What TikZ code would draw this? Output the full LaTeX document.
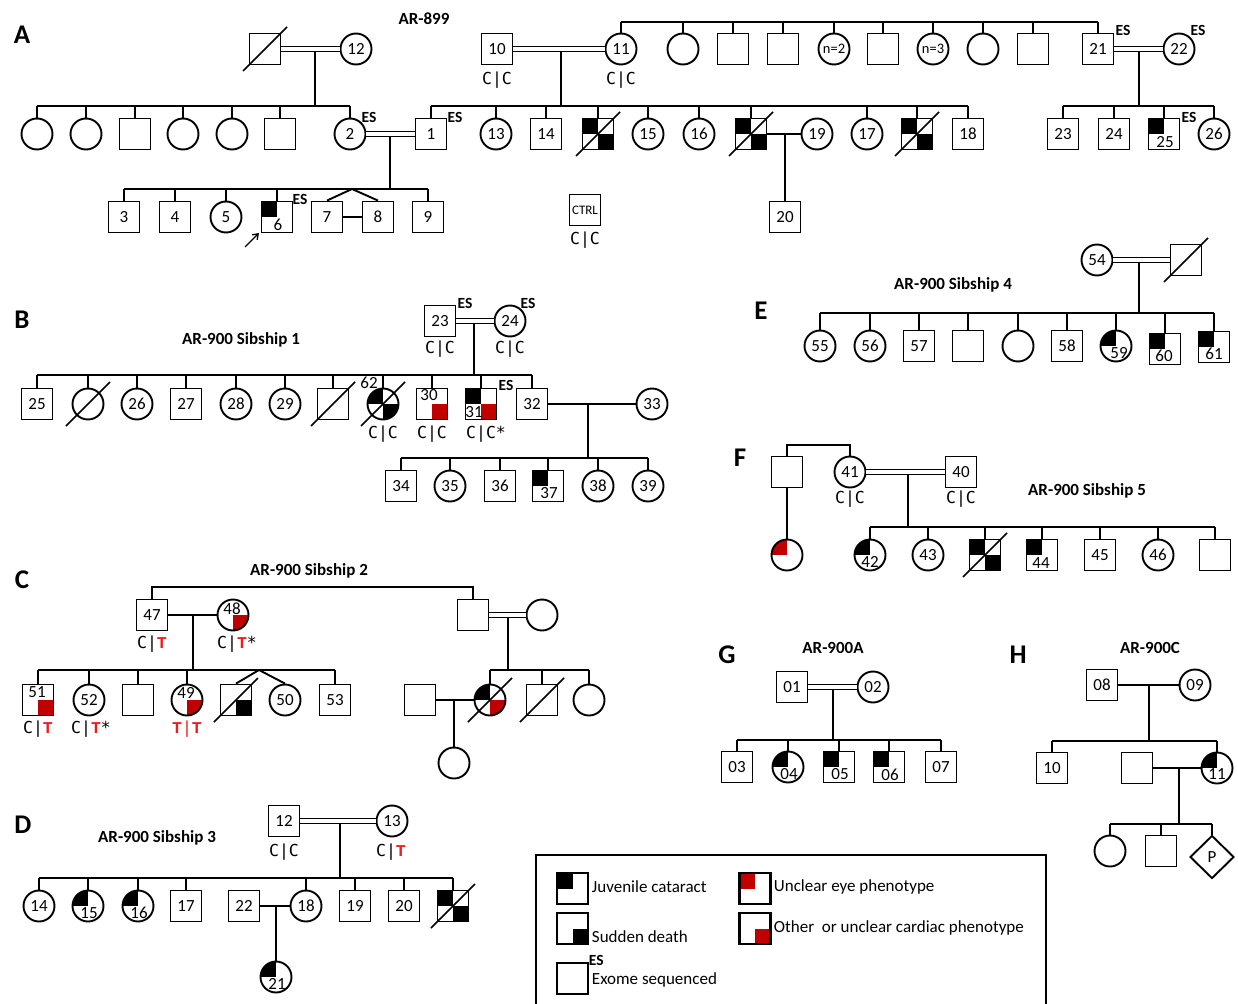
\documentclass[tikz,border=0pt]{standalone}
\usepackage{fontspec}
\setmainfont{Carlito}
\newfontfamily\gmono{DejaVu Sans Mono}
\newfontfamily\tmono{Liberation Mono}
\usetikzlibrary{shapes.geometric,arrows.meta}
\definecolor{dred}{RGB}{192,0,0}
\definecolor{tred}{RGB}{238,28,28}
\newcommand\fnum{\fontsize{17}{18}\selectfont}
\newcommand\fsmall{\fontsize{14.5}{16}\selectfont}
\newcommand\gT{\textcolor{tred}{\tmono\bfseries T}}
\newcommand\dead[1]{\draw[slash] (#1.center) +(-22,22) -- +(22,-22);}
\newcommand\sibs[2]{\foreach \nn in {#2}{\draw (\nn.north) -- (\nn.north |- #1);}}
\begin{document}
\begin{tikzpicture}[x=1pt,y=-1pt,line width=1.9pt,
  every node/.style={inner sep=0pt},
  sq/.style={draw,rectangle,minimum size=31pt,font=\fnum,line width=1.9pt},
  ci/.style={draw,circle,minimum size=31pt,font=\fnum,line width=1.9pt},
  dia/.style={draw,diamond,minimum width=44pt,minimum height=43pt,font=\fnum,line width=1.9pt},
  qtl/.style={path picture={\fill[#1] (path picture bounding box.north west) rectangle (path picture bounding box.center);}},
  qtl/.default=black,
  qbr/.style={path picture={\fill[#1] (path picture bounding box.south east) rectangle (path picture bounding box.center);}},
  qbr/.default=black,
  qtb/.style 2 args={path picture={\fill[#1] (path picture bounding box.north west) rectangle (path picture bounding box.center);
     \fill[#2] (path picture bounding box.south east) rectangle (path picture bounding box.center);}},
  dbl/.style={double,double distance=3.2pt,line width=1.6pt},
  slash/.style={line width=1.7pt},
  txt/.style={font=\fnum},
  numt/.style={font=\fnum},
  gt/.style={font=\gmono\fontsize{16.5}{17}\selectfont},
  es/.style={font=\bfseries\fontsize{15.5}{15.5}\selectfont},
  panel/.style={font=\bfseries\fontsize{27}{27}\selectfont},
  title/.style={font=\bfseries\fontsize{17}{17}\selectfont},
  lgs/.style={line width=2.3pt}
]
\useasboundingbox (0,0) rectangle (1238,1003);

%================ A ================
\node[panel] (lA) at (22,35) {A};
\node[title] (tA) at (424,19) {AR-899};
\node[sq] (a0) at (265,49) {}; \dead{a0}
\node[ci] (a12) at (356,49) {12};
\draw[dbl] (a0) -- (a12);
\coordinate (ma0) at (315,51.3); \coordinate (ba0) at (315,106);
\draw (ma0) -- (ba0);
\node[ci] (s1) at (37,134) {};
\node[ci] (s2) at (86,134) {};
\node[sq] (s3) at (135,134) {};
\node[ci] (s4) at (183,134) {};
\node[ci] (s5) at (232,134) {};
\node[sq] (s6) at (280,134) {};
\node[ci] (a2) at (350,134) {2};
\sibs{ba0}{s1,s2,s3,s4,s5,s6,a2}
\draw (s1.north |- ba0) -- (a2.north |- ba0);

\node[sq] (a10) at (497,49) {10};
\node[ci] (a11) at (621,49) {11};
\draw[dbl] (a10) -- (a11);
\node[gt] (ga10) at (497,80) {C|C};
\node[gt] (ga11) at (621,80) {C|C};
\coordinate (bt) at (0,22);
\node[ci] (t1) at (683,49) {};
\node[sq] (t2) at (733,49) {};
\node[sq] (t3) at (783,49) {};
\node[ci,font=\fsmall] (t4) at (834,49) {n=2};
\node[sq] (t5) at (883,49) {};
\node[ci,font=\fsmall] (t6) at (933,49) {n=3};
\node[ci] (t7) at (983,49) {};
\node[sq] (t8) at (1033,49) {};
\node[sq] (a21) at (1098,49) {21};
\node[ci] (a22) at (1179,49) {22};
\sibs{bt}{a11,t1,t2,t3,t4,t5,t6,t7,t8,a21}
\draw (a11.north |- bt) -- (a21.north |- bt);
\draw[dbl] (a21) -- (a22);
\node[es] (es21) at (1123,30) {ES};
\node[es] (es22) at (1198,30) {ES};
\coordinate (m21) at (1139,51.3); \coordinate (b21) at (1139,106);
\draw (m21) -- (b21);
\node[sq] (a23) at (1063,134) {23};
\node[sq] (a24) at (1114,134) {24};
\node[sq,qtl] (a25) at (1164,134) {};
\node[numt] (n25) at (1165,142) {25};
\node[ci] (a26) at (1214,134) {26};
\node[es] (es25) at (1189,117) {ES};
\sibs{b21}{a23,a24,a25,a26}
\draw (a23.north |- b21) -- (a26.north |- b21);

\coordinate (m10) at (561,51.3); \coordinate (b10) at (561,106);
\draw (m10) -- (b10);
\node[sq] (a1) at (431,134) {1};
\node[ci] (a13) at (496,134) {13};
\node[sq] (a14) at (546,134) {14};
\node[sq,qtb={black}{black}] (ax1) at (598,134) {}; \dead{ax1}
\node[ci] (a15) at (648,134) {15};
\node[ci] (a16) at (699,134) {16};
\node[sq,qtb={black}{black}] (ax2) at (751,134) {}; \dead{ax2}
\node[ci] (a19) at (817,134) {19};
\node[ci] (a17) at (867,134) {17};
\node[sq,qtb={black}{black}] (ax3) at (917,134) {}; \dead{ax3}
\node[sq] (a18) at (968,134) {18};
\sibs{b10}{a1,a13,a14,ax1,a15,a16,ax2,a17,ax3,a18}
\draw (a1.north |- b10) -- (a18.north |- b10);
\draw (ax2) -- (a19);
\node[sq] (a20) at (785,217) {20};
\coordinate (m19) at (785,134);
\draw (m19) -- (a20);

\draw[dbl] (a2) -- (a1);
\node[es] (es2) at (369,117) {ES};
\node[es] (es1) at (455,117) {ES};
\coordinate (m2) at (390,136.3); \coordinate (b2) at (390,189);
\draw (m2) -- (b2);
\node[sq] (a3) at (124,217) {3};
\node[sq] (a4) at (175,217) {4};
\node[ci] (a5) at (226,217) {5};
\node[sq,qtl] (a6) at (277,217) {};
\node[numt] (n6) at (278,225) {6};
\node[es] (es6) at (300,199) {ES};
\node[sq] (a7) at (327,217) {7};
\node[sq] (a8) at (378,217) {8};
\node[sq] (a9) at (428,217) {9};
\sibs{b2}{a3,a4,a5,a6,a9}
\draw (a3.north |- b2) -- (a9.north |- b2);
\coordinate (tw) at (352,189);
\draw (a7.north) -- (tw) -- (a8.north);
\draw (a7) -- (a8);
\coordinate (arr) at (245,247); \coordinate (arrt) at (259,233);
\draw[line width=1.3pt,-{Straight Barb[length=5pt,width=7pt]}] (arr) -- (arrt);
\node[sq,font=\fontsize{13}{13}\selectfont] (ctrl) at (585,210) {CTRL};
\node[gt] (gctrl) at (585,240) {C|C};

%================ B ================
\node[panel] (lB) at (22,320) {B};
\node[title] (tB) at (241,340) {AR-900 Sibship 1};
\node[sq] (b23) at (440,321) {23};
\node[ci] (b24) at (510,321) {24};
\draw[dbl] (b23) -- (b24);
\node[es] (es23) at (465,303) {ES};
\node[es] (es24) at (528,303) {ES};
\node[gt] (gb23) at (440,349) {C|C};
\node[gt] (gb24) at (510,349) {C|C};
\coordinate (mb) at (474,323.3); \coordinate (bb) at (474,375);
\draw (mb) -- (bb);
\node[sq] (b25) at (37,404) {25};
\node[ci] (bx1) at (88,404) {}; \dead{bx1}
\node[ci] (b26) at (137,404) {26};
\node[sq] (b27) at (186,404) {27};
\node[ci] (b28) at (236,404) {28};
\node[ci] (b29) at (285,404) {29};
\node[sq] (bx2) at (333,404) {}; \dead{bx2}
\node[ci,qtb={black}{black}] (b62) at (383,404) {}; \dead{b62}
\node[numt] (n62) at (369,383) {62};
\node[sq,qbr=dred] (b30) at (432,404) {};
\node[numt] (n30) at (429,395) {30};
\node[sq,qtb={black}{dred}] (b31) at (481,404) {};
\node[numt] (n31) at (474,412) {31};
\node[es] (es31) at (506,385) {ES};
\node[sq] (b32) at (532,404) {32};
\sibs{bb}{b25,bx1,b26,b27,b28,b29,bx2,b62,b30,b31,b32}
\draw (b25.north |- bb) -- (b32.north |- bb);
\node[gt] (gb62) at (383,434) {C|C};
\node[gt] (gb30) at (432,434) {C|C};
\node[gt] (gb31) at (486,434) {C|C*};
\node[ci] (b33) at (652,404) {33};
\draw (b32) -- (b33);
\coordinate (mb2) at (588,404); \coordinate (bb2) at (588,458);
\draw (mb2) -- (bb2);
\node[sq] (b34) at (401,486) {34};
\node[ci] (b35) at (450,486) {35};
\node[sq] (b36) at (500,486) {36};
\node[sq,qtl] (b37) at (548,486) {};
\node[numt] (n37) at (549,493) {37};
\node[ci] (b38) at (598,486) {38};
\node[ci] (b39) at (648,486) {39};
\sibs{bb2}{b34,b35,b36,b37,b38,b39}
\draw (b34.north |- bb2) -- (b39.north |- bb2);

%================ E ================
\node[panel] (lE) at (761,311) {E};
\node[title] (tE) at (953,285) {AR-900 Sibship 4};
\node[ci] (e54) at (1097,260) {54};
\node[sq] (ex) at (1186,260) {}; \dead{ex}
\draw[dbl] (e54) -- (ex);
\coordinate (me) at (1139,262.3); \coordinate (be) at (1139,313);
\draw (me) -- (be);
\node[ci] (e55) at (820,346) {55};
\node[ci] (e56) at (870,346) {56};
\node[sq] (e57) at (919,346) {57};
\node[sq] (eb1) at (968,346) {};
\node[ci] (eb2) at (1018,346) {};
\node[sq] (e58) at (1067,346) {58};
\node[ci,qtl] (e59) at (1116,346) {};
\node[numt] (n59) at (1119,353) {59};
\node[sq,qtl] (e60) at (1165,349) {};
\node[numt] (n60) at (1164,356) {60};
\node[sq,qtl] (e61) at (1214,347) {};
\node[numt] (n61) at (1214,354) {61};
\sibs{be}{e55,e56,e57,eb1,eb2,e58,e59,e60,e61}
\draw (e55.north |- be) -- (e61.north |- be);

%================ F ================
\node[panel] (lF) at (740,458) {F};
\node[sq] (fsq) at (787,472) {};
\node[ci] (f41) at (850,472) {41};
\node[sq] (f40) at (961,472) {40};
\coordinate (fbk) at (0,445);
\draw (fsq.north) -- (fsq.north |- fbk) -- (f41.north |- fbk) -- (f41.north);
\node[ci,qtl=dred] (fr) at (787,555) {};
\draw (fsq) -- (fr);
\draw[dbl] (f41) -- (f40);
\node[gt] (gf41) at (850,499) {C|C};
\node[gt] (gf40) at (961,499) {C|C};
\node[title] (tF) at (1087,491) {AR-900 Sibship 5};
\coordinate (mf) at (908,474.3); \coordinate (bf) at (908,527);
\draw (mf) -- (bf);
\node[ci,qtl] (f42) at (870,555) {};
\node[numt] (n42) at (870,562) {42};
\node[ci] (f43) at (928,555) {43};
\node[sq,qtb={black}{black}] (fx) at (985,555) {}; \dead{fx}
\node[sq,qtl] (f44) at (1042,555) {};
\node[numt] (n44) at (1041,563) {44};
\node[sq] (f45) at (1100,555) {45};
\node[ci] (f46) at (1158,555) {46};
\node[sq] (fb7) at (1215,555) {};
\sibs{bf}{f42,f43,fx,f44,f45,f46,fb7}
\draw (f42.north |- bf) -- (fb7.north |- bf);

%================ C ================
\node[panel] (lC) at (22,580) {C};
\node[title] (tC) at (309,571) {AR-900 Sibship 2};
\coordinate (ct) at (0,587);
\node[sq] (c47) at (152,615) {47};
\node[ci,qbr=dred] (c48) at (233,615) {};
\node[numt] (n48) at (232,609) {48};
\node[sq] (cr1) at (473,615) {};
\node[ci] (cr2) at (542,615) {};
\draw (c47.north) -- (c47.north |- ct) -- (cr1.north |- ct) -- (cr1.north);
\draw (c47) -- (c48);
\node[gt] (gc47) at (152,644) {C|\gT};
\node[gt] (gc48) at (237,644) {C|\gT*};
\coordinate (mc) at (193,615); \coordinate (bc) at (193,670);
\draw (mc) -- (bc);
\node[sq,qbr=dred] (c51) at (38,700) {};
\node[numt] (n51) at (37,692) {51};
\node[ci] (c52) at (89,700) {52};
\node[sq] (cb) at (138,700) {};
\node[ci,qbr=dred] (c49) at (187,700) {};
\node[numt] (n49) at (186,693) {49};
\node[sq,qbr] (cx) at (236,700) {}; \dead{cx}
\node[ci] (c50) at (285,700) {50};
\node[sq] (c53) at (335,700) {53};
\sibs{bc}{c51,c52,cb,c49,c53}
\draw (c51.north |- bc) -- (c53.north |- bc);
\coordinate (ctw) at (259,670);
\draw (cx.north) -- (ctw) -- (c50.north);
\node[gt] (gc51) at (38,729) {C|\gT};
\node[gt] (gc52) at (91,729) {C|\gT*};
\node[gt] (gc49) at (187,729) {\gT\textcolor{tred}{|}\gT};
\draw[dbl] (cr1) -- (cr2);
\coordinate (mcr) at (508,617.3); \coordinate (bcr) at (508,670);
\draw (mcr) -- (bcr);
\node[ci,qtb={black}{dred}] (crx) at (490,700) {}; \dead{crx}
\node[sq] (crs) at (542,700) {}; \dead{crs}
\node[ci] (crc) at (589,700) {};
\sibs{bcr}{crx,crs,crc}
\draw (crx.north |- bcr) -- (crc.north |- bcr);
\node[sq] (csp) at (420,700) {};
\draw (csp) -- (crx);
\coordinate (mcs) at (454,700);
\node[ci] (cch) at (454,763) {};
\draw (mcs) -- (cch);

%================ D ================
\node[panel] (lD) at (23,825) {D};
\node[title] (tD) at (157,838) {AR-900 Sibship 3};
\node[sq] (dd12) at (284,821) {12};
\node[ci] (dd13) at (392,821) {13};
\draw[dbl] (dd12) -- (dd13);
\node[gt] (gd12) at (284,852) {C|C};
\node[gt] (gd13) at (391,852) {C|\gT};
\coordinate (md) at (340,823.3); \coordinate (bd) at (340,878);
\draw (md) -- (bd);
\node[ci] (dd14) at (39,906) {14};
\node[ci,qtl] (dd15) at (88,906) {};
\node[numt] (n15) at (89,913) {15};
\node[ci,qtl] (dd16) at (138,906) {};
\node[numt] (n16) at (139,913) {16};
\node[sq] (dd17) at (186,906) {17};
\node[sq] (dd22) at (244,906) {22};
\node[ci] (dd18) at (306,906) {18};
\node[sq] (dd19) at (355,906) {19};
\node[sq] (dd20) at (404,906) {20};
\node[sq,qtb={black}{black}] (ddx) at (453,906) {}; \dead{ddx}
\sibs{bd}{dd14,dd15,dd16,dd17,dd18,dd19,dd20,ddx}
\draw (dd14.north |- bd) -- (ddx.north |- bd);
\draw (dd22) -- (dd18);
\coordinate (md2) at (276,906);
\node[ci,qtl] (dd21) at (276,977) {};
\node[numt] (n21) at (277,984) {21};
\draw (md2) -- (dd21);

%================ G ================
\node[panel] (lG) at (727,655) {G};
\node[title] (tG) at (833,648) {AR-900A};
\node[sq] (g01) at (792,687) {01};
\node[ci] (g02) at (873,687) {02};
\draw[dbl] (g01) -- (g02);
\coordinate (mg) at (833,689.3); \coordinate (bg) at (833,740);
\draw (mg) -- (bg);
\node[sq] (g03) at (737,767) {03};
\node[ci,qtl] (g04) at (788,767) {};
\node[numt] (n04) at (789,774) {04};
\node[sq,qtl] (g05) at (839,767) {};
\node[numt] (n05) at (840,774) {05};
\node[sq,qtl] (g06) at (889,767) {};
\node[numt] (n06) at (890,775) {06};
\node[sq] (g07) at (941,767) {07};
\sibs{bg}{g03,g04,g05,g06,g07}
\draw (g03.north |- bg) -- (g07.north |- bg);

%================ H ================
\node[panel] (lH) at (1018,655) {H};
\node[title] (tH) at (1150,648) {AR-900C};
\node[sq] (h08) at (1102,685) {08};
\node[ci] (h09) at (1195,685) {09};
\draw (h08) -- (h09);
\coordinate (mh) at (1149,685); \coordinate (bh) at (1149,741);
\draw (mh) -- (bh);
\node[sq] (h10) at (1052,768) {10};
\node[sq] (hs) at (1137,768) {};
\node[ci,qtl] (h11) at (1217,768) {};
\node[numt] (n11) at (1217,774) {11};
\sibs{bh}{h10,h11}
\draw (h10.north |- bh) -- (h11.north |- bh);
\draw (hs) -- (h11);
\coordinate (mh2) at (1179,768); \coordinate (bh2) at (1179,824);
\draw (mh2) -- (bh2);
\node[ci] (hc) at (1110,851) {};
\node[sq] (hq) at (1161,851) {};
\node[dia] (hp) at (1212,857) {P};
\sibs{bh2}{hc,hq,hp}
\draw (hc.north |- bh2) -- (hp.north |- bh2);

%================ Legend ================
\draw[line width=1.9pt] (536,1006) -- (536,855) -- (1046,855) -- (1046,1006);
\node[sq,qtl,lgs] (L1) at (572.5,888.5) {};
\node[txt,anchor=west] (L1t) at (591,887) {Juvenile cataract};
\node[sq,qbr,lgs] (L2) at (572.5,928.5) {};
\node[txt,anchor=west] (L2t) at (591,937) {Sudden death};
\node[sq,lgs] (L3) at (572.5,978.5) {};
\node[es,anchor=west] (L3e) at (588,960) {ES};
\node[txt,anchor=west] (L3t) at (591,980) {Exome sequenced};
\node[sq,qtl=dred,lgs] (L4) at (755,888.5) {};
\node[txt,anchor=west] (L4t) at (773,887) {Unclear eye phenotype};
\node[sq,qbr=dred,lgs] (L5) at (755,928.5) {};
\node[txt,anchor=west] (L5t) at (773,928) {Other\ \ or unclear cardiac phenotype};
\end{tikzpicture}
\end{document}
